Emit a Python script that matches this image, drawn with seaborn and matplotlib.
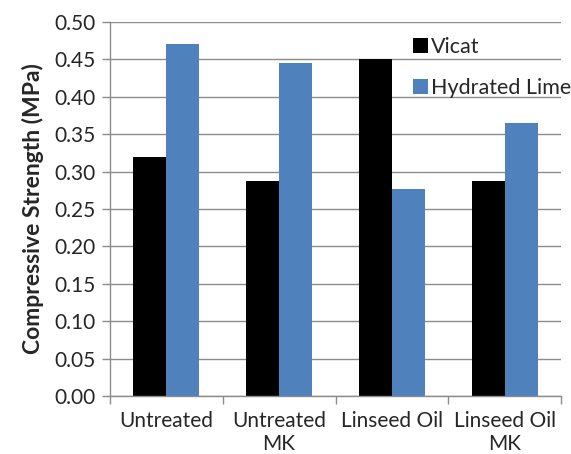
import matplotlib
matplotlib.use("Agg")
import matplotlib.pyplot as plt
import seaborn as sns
import pandas as pd
from matplotlib.ticker import FixedLocator

categories = ["Untreated", "Untreated\nMK", "Linseed Oil", "Linseed Oil\nMK"]
vicat = [0.319, 0.287, 0.451, 0.288]
hydrated_lime = [0.470, 0.445, 0.277, 0.365]
series_names = ["Vicat", "Hydrated Lime"]
ytick_values = [0.0, 0.05, 0.10, 0.15, 0.20, 0.25, 0.30, 0.35, 0.40, 0.45, 0.50]

df = pd.DataFrame({
    "Treatment": categories * 2,
    "Strength": vicat + hydrated_lime,
    "Binder": [series_names[0]] * 4 + [series_names[1]] * 4,
})

sns.set_theme(style="white")
plt.rcParams["font.family"] = ["Lato", "DejaVu Sans"]

fig = plt.figure(figsize=(5.71, 4.54), dpi=100)
ax = fig.add_axes([110 / 571, 1 - 396 / 454, 451 / 571, 374 / 454])

sns.barplot(data=df, x="Treatment", y="Strength", hue="Binder",
            palette=["#000000", "#4F81BD"], saturation=1, width=0.585,
            linewidth=0, ax=ax, legend=True)

ax.set_ylim(0, 0.5)
ax.set_xlim(-0.5, 3.5)
ax.yaxis.set_major_locator(FixedLocator(ytick_values))
ax.set_yticklabels([f"{v:.2f}" for v in ytick_values], fontsize=15)
ax.grid(axis="y", color="#8c8c8c", linewidth=1.0)
ax.set_axisbelow(True)

for side in ["top", "right"]:
    ax.spines[side].set_visible(False)
for side in ["left", "bottom"]:
    ax.spines[side].set_color("#8c8c8c")
    ax.spines[side].set_linewidth(1.0)

# category labels on minor ticks, separators on major ticks
ax.set_xticks([-0.5, 0.5, 1.5, 2.5, 3.5])
ax.set_xticklabels([""] * 5)
ax.set_xticks([0, 1, 2, 3], minor=True)
ax.set_xticklabels(categories, minor=True, fontsize=15, linespacing=1.15)
ax.tick_params(axis="x", which="major", direction="out", length=6,
               color="#8c8c8c", width=1.0, bottom=True)
ax.tick_params(axis="x", which="minor", length=0, pad=11, bottom=True)
ax.tick_params(axis="y", direction="out", length=6, color="#8c8c8c",
               width=1.0, left=True, pad=4)

ax.set_xlabel("")
ax.set_ylabel("Compressive Strength (MPa)", fontsize=16.5, fontweight="bold",
              labelpad=8)

handles, labels = ax.get_legend_handles_labels()
ax.legend(handles, labels, loc="upper left", bbox_to_anchor=(404 / 571, 1 - 28 / 454),
          bbox_transform=fig.transFigure, frameon=False, fontsize=15.5,
          handlelength=0.7, handleheight=0.7, handletextpad=0.15,
          labelspacing=1.0, borderaxespad=0)

fig.savefig("out.png", dpi=100)
